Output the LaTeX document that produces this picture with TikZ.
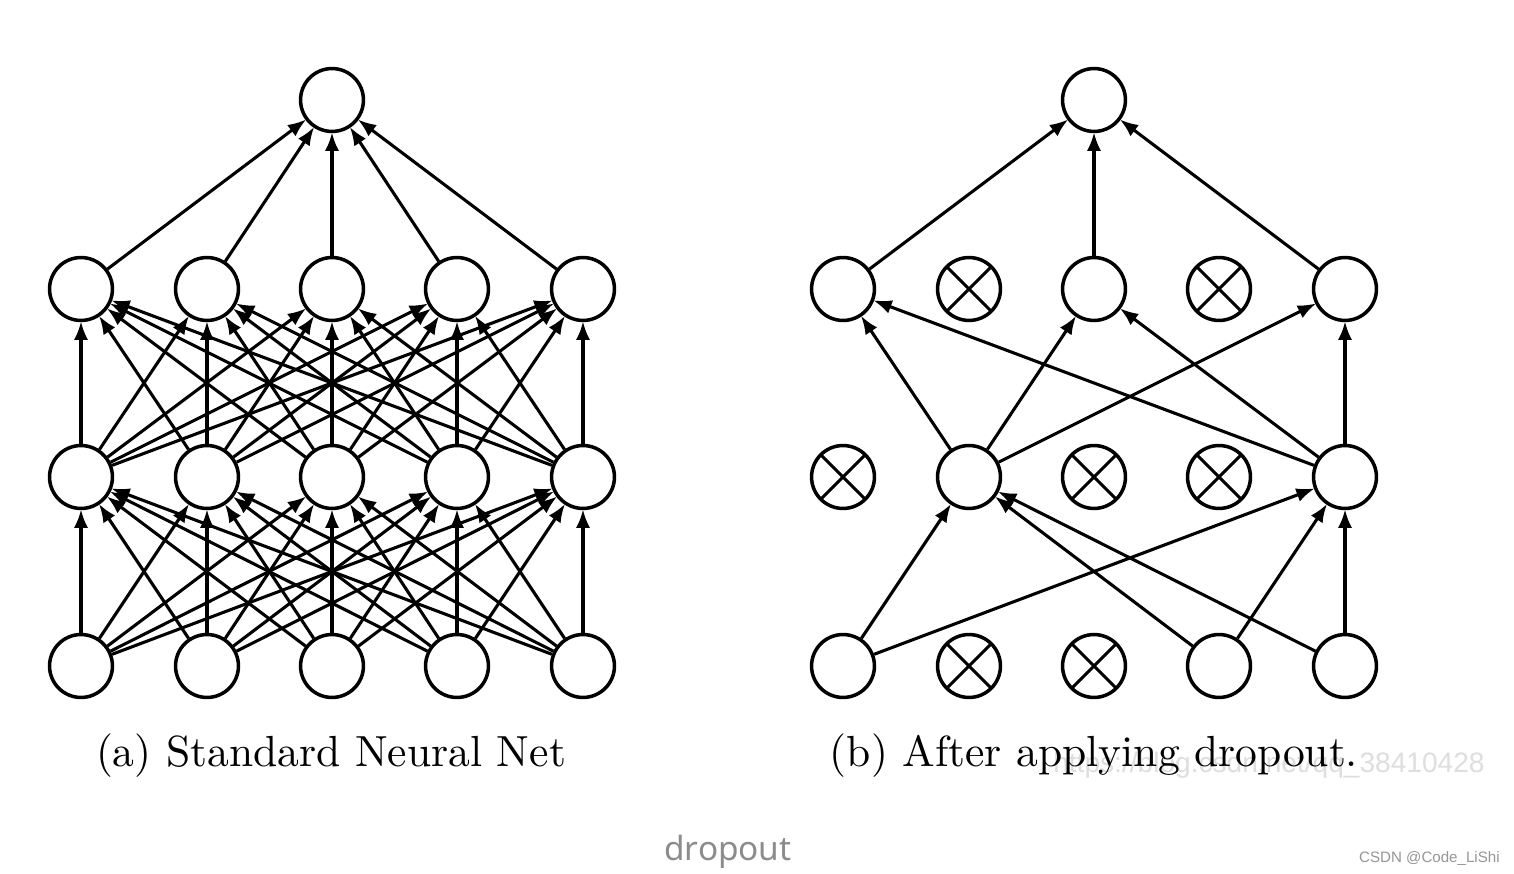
\documentclass[tikz,border=0pt]{standalone}
\usepackage{fontspec}
\usepackage{graphicx}
\usetikzlibrary{arrows.meta}
\newfontfamily\notosans{Noto Sans}
\newfontfamily\libsans{Liberation Sans}
\definecolor{wmgray}{RGB}{222,222,222}
\definecolor{dgray}{RGB}{140,140,140}
\definecolor{csdngray}{RGB}{150,150,150}
\tikzset{
  neuron/.style={circle, draw=black, line width=2pt, minimum size=35.8pt, inner sep=0pt, fill=white},
  dropped/.style={neuron, path picture={
      \draw[line width=1.7pt] (path picture bounding box.north west) -- (path picture bounding box.south east)
            (path picture bounding box.north east) -- (path picture bounding box.south west);}},
  conn/.style={-{Latex[length=10.5pt,width=8pt]}, line width=1.75pt, shorten >=-0.5pt},
}
\begin{document}
\begin{tikzpicture}[x=0.02cm, y=-0.02cm]
\useasboundingbox[fill=white] (0,0) rectangle (1514,874);

% ---------- (a) standard network ----------
\foreach \i/\x in {1/81,2/207,3/332,4/457,5/583}{
  \node[neuron] (A0\i) at (\x,666) {};
  \node[neuron] (A1\i) at (\x,477) {};
  \node[neuron] (A2\i) at (\x,289) {};
}
\node[neuron] (AT) at (332,100) {};
\foreach \i in {1,...,5}{
  \foreach \j in {1,...,5}{
    \draw[conn] (A0\i) -- (A1\j);
    \draw[conn] (A1\i) -- (A2\j);
  }
  \draw[conn] (A2\i) -- (AT);
}

% ---------- (b) after dropout ----------
\node[neuron]  (B01) at (843,666) {};
\node[dropped] (B02) at (969,666) {};
\node[dropped] (B03) at (1094,666) {};
\node[neuron]  (B04) at (1219,666) {};
\node[neuron]  (B05) at (1345,666) {};

\node[dropped] (B11) at (843,477) {};
\node[neuron]  (B12) at (969,477) {};
\node[dropped] (B13) at (1094,477) {};
\node[dropped] (B14) at (1219,477) {};
\node[neuron]  (B15) at (1345,477) {};

\node[neuron]  (B21) at (843,289) {};
\node[dropped] (B22) at (969,289) {};
\node[neuron]  (B23) at (1094,289) {};
\node[dropped] (B24) at (1219,289) {};
\node[neuron]  (B25) at (1345,289) {};

\node[neuron]  (BT) at (1094,100) {};

\foreach \s in {B01,B04,B05}{
  \draw[conn] (\s) -- (B12);
  \draw[conn] (\s) -- (B15);
}
\foreach \s in {B12,B15}{
  \foreach \t in {B21,B23,B25}{
    \draw[conn] (\s) -- (\t);
  }
}
\foreach \s in {B21,B23,B25}{
  \draw[conn] (\s) -- (BT);
}

% ---------- texts ----------
\node[anchor=base east, text=wmgray, inner sep=0pt] (wm) at (1485,772)
  {\libsans\fontsize{16}{19}\selectfont https://blog.csdn.net/qq\_38410428};
\node[anchor=base, inner sep=0pt] (capa) at (331,766)
  {\scalebox{2.48}{\fontsize{10}{12}\selectfont (a) Standard Neural Net}};
\node[anchor=base, inner sep=0pt] (capb) at (1094,766)
  {\scalebox{2.48}{\fontsize{10}{12}\selectfont (b) After applying dropout.}};
\node[anchor=base, text=dgray, inner sep=0pt] (title) at (728,860)
  {\notosans\fontsize{19}{22}\selectfont dropout};
\node[anchor=base east, text=csdngray, inner sep=0pt] (csdn) at (1500,862)
  {\libsans\fontsize{8.6}{10}\selectfont CSDN @Code\_LiShi};
\end{tikzpicture}
\end{document}
